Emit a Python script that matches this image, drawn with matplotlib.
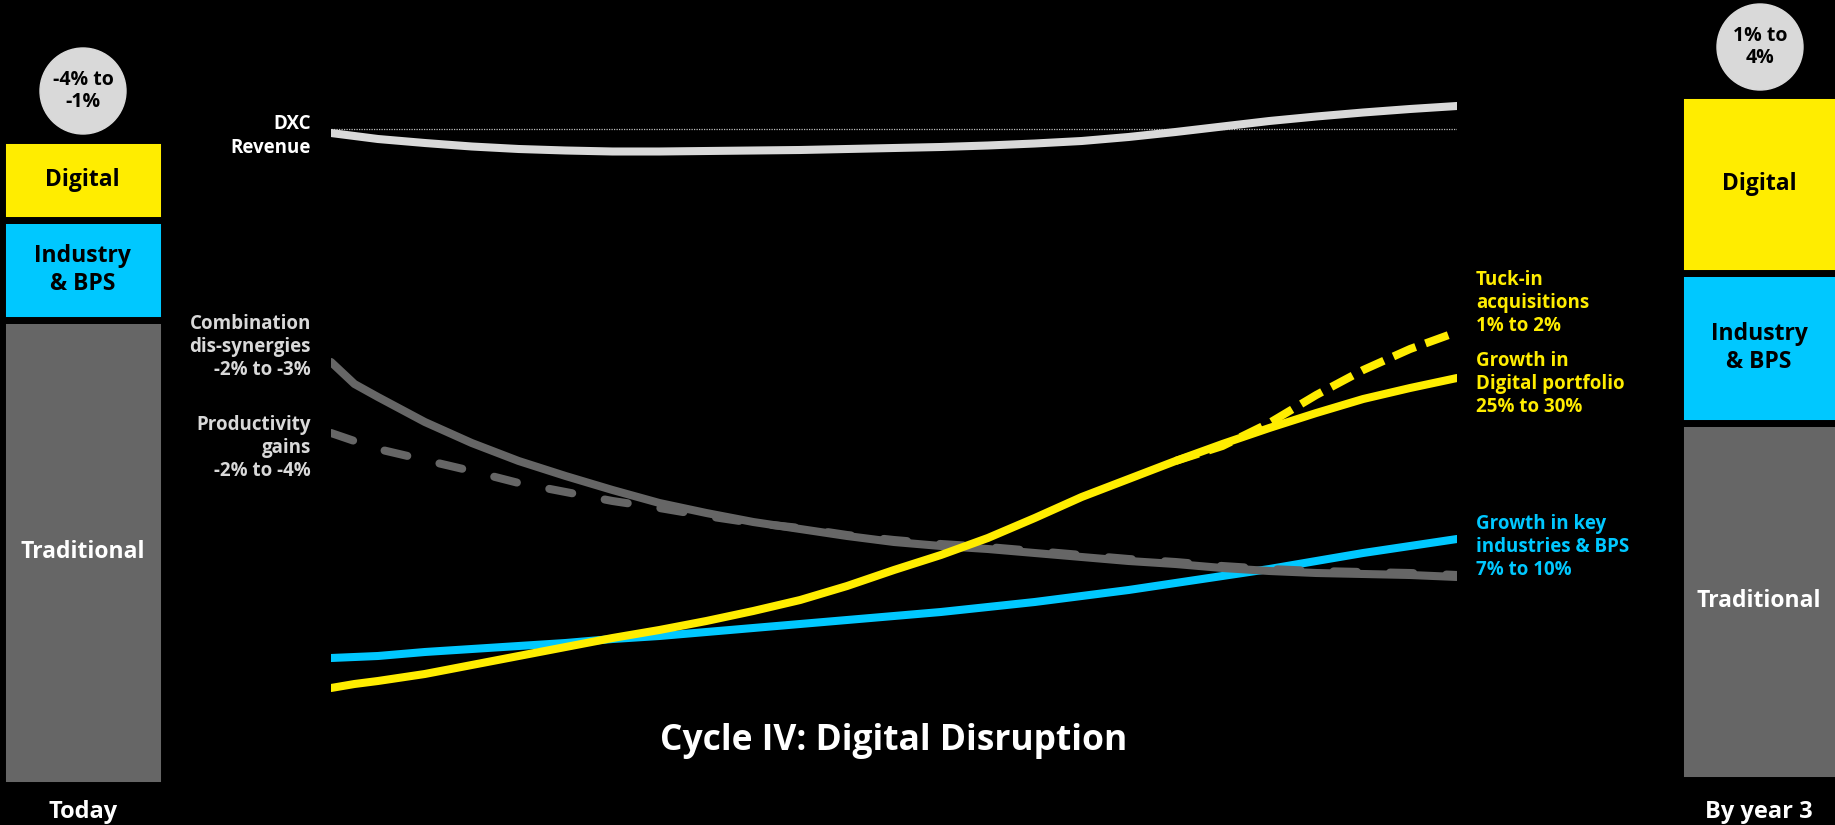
import matplotlib
matplotlib.use("Agg")
import matplotlib.pyplot as plt
from matplotlib.patches import Circle

# Years after the combination (x axis of the centre chart)
YEARS = [0, 0.0625, 0.125, 0.25, 0.375, 0.5, 0.625, 0.75, 0.875, 1.0, 1.125,
         1.25, 1.375, 1.5, 1.625, 1.75, 1.875, 2.0, 2.125, 2.25, 2.375, 2.5,
         2.625, 2.75, 2.875, 3.0]
TUCK_YEARS = [2.25, 2.375, 2.5, 2.625, 2.75, 2.875, 3.0]

# Relative index values
REVENUE = [117.4, 116.8, 116.2, 115.4, 114.7, 114.2, 113.9, 113.7, 113.7,
           113.8, 113.9, 114.0, 114.2, 114.4, 114.6, 114.9, 115.3, 115.8,
           116.6, 117.6, 118.7, 119.8, 120.7, 121.5, 122.2, 122.8]
REVENUE_BASE = 118.2
DIS_SYNERGIES = [71.6, 67.2, 64.6, 59.6, 55.4, 51.8, 48.8, 46.0, 43.4, 41.4,
                 39.6, 38.2, 36.8, 35.6, 34.8, 34.2, 33.4, 32.6, 31.8, 31.2,
                 30.4, 29.8, 29.4, 29.2, 29.0, 28.6]
PRODUCTIVITY = [57.4, 55.8, 54.2, 52.0, 49.8, 47.4, 45.6, 43.8, 42.4, 40.8,
                39.4, 38.4, 37.0, 36.0, 35.2, 34.6, 33.8, 33.0, 32.2, 31.6,
                30.8, 30.2, 29.8, 29.6, 29.4, 29.0]
INDUSTRIES = [12.4, 12.6, 12.8, 13.6, 14.2, 14.8, 15.4, 16.2, 16.8, 17.6,
              18.4, 19.2, 20.0, 20.8, 21.6, 22.6, 23.6, 24.8, 26.0, 27.4,
              28.8, 30.2, 31.8, 33.4, 34.8, 36.2]
DIGITAL = [6.4, 7.2, 7.8, 9.2, 11.0, 12.8, 14.6, 16.4, 18.0, 19.8, 21.8,
           24.0, 26.8, 30.0, 33.0, 36.4, 40.4, 44.6, 48.2, 51.8, 55.2, 58.4,
           61.4, 64.2, 66.4, 68.4]
TUCK_IN = [51.8, 54.8, 59.4, 65.0, 70.0, 74.2, 77.6]

# Revenue mix bars (bottom to top)
MIX_LABELS = ["Traditional", "Industry\n& BPS", "Digital"]
MIX_TODAY = [72.2, 15.4, 12.4]
MIX_YEAR3 = [55.3, 23.4, 27.6]
GROWTH_TODAY = "-4% to\n-1%"
GROWTH_YEAR3 = "1% to\n4%"

YELLOW = "#FFED00"
CYAN = "#00C8FF"
GREY = "#666666"
LIGHT = "#D9D9D9"
FONT = ["Open Sans", "DejaVu Sans"]

W, H = 1835, 825


def box(left, top, width, height):
    ''' pixel box (from top left) -> figure fraction rect '''
    return [left / W, (H - top - height) / H, width / W, height / H]


def mix_bar(fig, rect, values, ymax):
    ''' draws one stacked revenue mix bar with its labels '''
    ax = fig.add_axes(rect)
    ax.set_xlim(-0.5, 0.5)
    ax.set_ylim(0, ymax)
    ax.axis("off")
    colors = [GREY, CYAN, YELLOW]
    bottom = 0
    for val, col, lab in zip(values, colors, MIX_LABELS):
        ax.bar(0, val, width=1, bottom=bottom, color=col, edgecolor="black",
               linewidth=5, clip_on=False)
        txt_col = "white" if col == GREY else "black"
        ax.text(0, bottom + val / 2, lab, ha="center", va="center",
                fontsize=16.5, fontweight="bold", color=txt_col,
                family=FONT, linespacing=1.2)
        bottom += val
    return ax


def main():
    fig = plt.figure(figsize=(W / 100, H / 100), dpi=100, facecolor="black")

    # centre chart with the curves, 5 px per index point
    ax = fig.add_axes(box(331, 60, 1126, 660))
    ax.set_xlim(0, 3)
    ax.set_ylim(0, 132)
    ax.axis("off")

    lw = 5.8
    ax.plot([YEARS[0], YEARS[-1]], [REVENUE_BASE, REVENUE_BASE], color="#BBBBBB",
            linewidth=0.9, linestyle=(0, (1, 1)), zorder=1)
    ax.plot(YEARS, REVENUE, color=LIGHT, linewidth=lw,
            solid_capstyle="round", zorder=2)
    ax.plot(YEARS, INDUSTRIES, color=CYAN, linewidth=lw,
            solid_capstyle="round", zorder=3)
    ax.plot(YEARS, PRODUCTIVITY, color=GREY, linewidth=lw,
            dashes=(2.9, 4.1), dash_capstyle="round", zorder=4)
    ax.plot(YEARS, DIS_SYNERGIES, color=GREY, linewidth=lw,
            solid_capstyle="round", zorder=5)
    ax.plot(YEARS, DIGITAL, color=YELLOW, linewidth=lw,
            solid_capstyle="round", zorder=6)
    ax.plot(TUCK_YEARS, TUCK_IN, color=YELLOW, linewidth=lw,
            dashes=(3.0, 1.3), dash_capstyle="butt", zorder=7)

    # revenue mix bars, same scale on both sides
    mix_bar(fig, box(1.5, 140.5, 162, 644), MIX_TODAY, 100)
    tall = 644 * sum(MIX_YEAR3) / 100
    mix_bar(fig, box(1679.5, 779.5 - tall, 159, tall), MIX_YEAR3, sum(MIX_YEAR3))

    # overlay in pixel units for circles and text
    ov = fig.add_axes([0, 0, 1, 1])
    ov.set_xlim(0, W)
    ov.set_ylim(H, 0)
    ov.axis("off")
    ov.patch.set_alpha(0)

    for cx, cy, txt in [(83, 91, GROWTH_TODAY), (1760, 47, GROWTH_YEAR3)]:
        ov.add_patch(Circle((cx, cy), 43, color=LIGHT))
        ov.text(cx, cy, txt, ha="center", va="center", fontsize=14,
                fontweight="bold", color="black", family=FONT, linespacing=1.15)

    label = dict(fontsize=13.5, fontweight="bold", va="center",
                 family=FONT, linespacing=1.22)
    ov.text(311, 136, "DXC\nRevenue", ha="right", color="white", **label)
    ov.text(311, 347, "Combination\ndis-synergies\n-2% to -3%", ha="right",
            color=LIGHT, **label)
    ov.text(311, 448, "Productivity\ngains\n-2% to -4%", ha="right",
            color=LIGHT, **label)
    ov.text(1476, 303, "Tuck-in\nacquisitions\n1% to 2%", ha="left",
            color=YELLOW, **label)
    ov.text(1476, 384, "Growth in\nDigital portfolio\n25% to 30%", ha="left",
            color=YELLOW, **label)
    ov.text(1476, 547, "Growth in key\nindustries & BPS\n7% to 10%", ha="left",
            color=CYAN, **label)

    ov.text(894, 741, "Cycle IV: Digital Disruption", ha="center", va="center",
            fontsize=25.5, fontweight="bold", color="white", family=FONT)
    ov.text(83, 812, "Today", ha="center", va="center", fontsize=17,
            fontweight="bold", color="white", family=FONT)
    ov.text(1759, 812, "By year 3", ha="center", va="center", fontsize=17,
            fontweight="bold", color="white", family=FONT)

    fig.savefig("out.png", dpi=100, facecolor="black")


main()
